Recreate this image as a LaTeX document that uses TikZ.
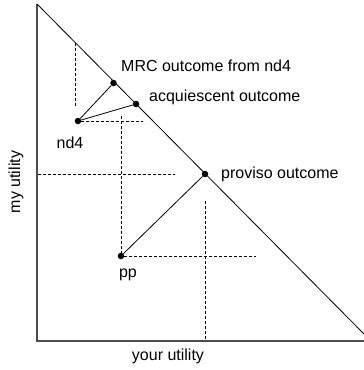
\documentclass[tikz,border=0pt]{standalone}
\usepackage{fontspec}
\setmainfont{Liberation Sans}
\tikzset{
  guide/.style={densely dashed, line width=0.8pt},
  dot/.style={circle, fill=black, inner sep=0pt, minimum size=6.5pt},
  lbl/.style={font=\fontsize{16}{19}\selectfont, inner sep=0pt}
}

\begin{document}
\begin{tikzpicture}[x=1pt, y=-1pt]
\useasboundingbox (0,0) rectangle (364,370);
\coordinate (O) at (37,341);
\coordinate (Ytop) at (37,4);
\coordinate (Xend) at (364,341);
\coordinate (Dend) at (364,334);
\draw[line width=1.2pt, gray!60!black] (Ytop) -- (O) -- (Xend);
\draw[line width=0.8pt] (Ytop) -- (Dend);
% points
\node[dot] (mrc) at (113.5,83) {};
\node[dot] (acq) at (136,104) {};
\node[dot] (nd4) at (78,121) {};
\node[dot] (prov) at (205,174) {};
\node[dot] (pp) at (121,256) {};
\draw[line width=0.8pt] (nd4) -- (mrc);
\draw[line width=0.8pt] (nd4) -- (acq);
\draw[line width=0.8pt] (pp) -- (prov);
% dashed guides
\coordinate (g1a) at (75,43);  \coordinate (g1b) at (75,106);
\coordinate (g2) at (143,121);
\coordinate (g3) at (121,116);
\coordinate (g4a) at (38,174); \coordinate (g4b) at (175,174);
\coordinate (g5a) at (205,201); \coordinate (g5b) at (205,339);
\coordinate (g6) at (256,256);
\draw[guide] (g1a) -- (g1b);
\draw[guide] (nd4) -- (g2);
\draw[guide] (g3) -- (pp);
\draw[guide] (g4a) -- (g4b);
\draw[guide] (g5a) -- (g5b);
\draw[guide] (pp) -- (g6);
% labels
\node[lbl, anchor=west] (tmrc) at (121,66) {MRC outcome from nd4};
\node[lbl, anchor=west] (tacq) at (149,97) {acquiescent outcome};
\node[lbl] (tnd4) at (70,143) {nd4};
\node[lbl, anchor=west] (tprov) at (221,174) {proviso outcome};
\node[lbl] (tpp) at (128,275) {pp};
\node[lbl, rotate=90] (tmy) at (16,182) {my utility};
\node[lbl] (tyour) at (168,356) {your utility};
\end{tikzpicture}
\end{document}
